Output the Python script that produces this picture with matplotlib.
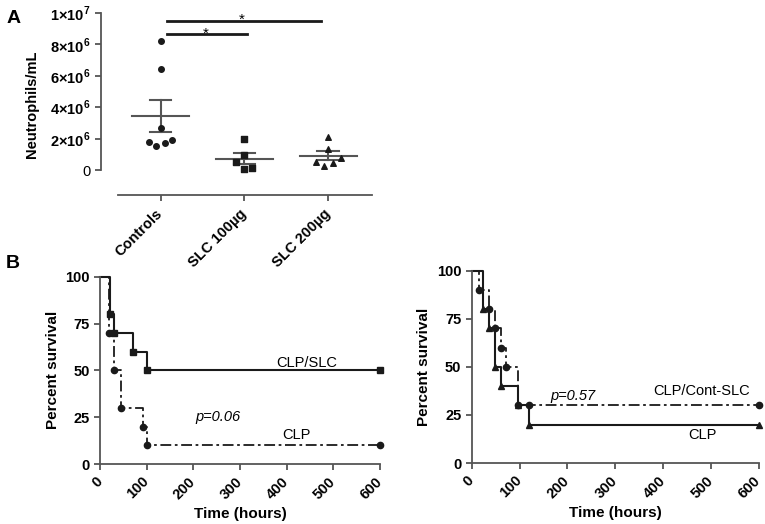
import numpy as np
import matplotlib
matplotlib.use("Agg")
import matplotlib.pyplot as plt

plt.rcParams['font.family'] = ['Liberation Sans', 'DejaVu Sans']
plt.rcParams['mathtext.fontset'] = 'custom'
plt.rcParams['mathtext.rm'] = 'Liberation Sans:bold'
plt.rcParams['mathtext.bf'] = 'Liberation Sans:bold'

# panel A data (neutrophils/mL)
groups = ["Controls", "SLC 100µg", "SLC 200µg"]
controls = [8.2e6, 6.45e6, 2.65e6, 1.8e6, 1.55e6, 1.7e6, 1.9e6]
controls_off = [0, 0, 0, -0.14, -0.05, 0.05, 0.14]
slc100 = [2.0e6, 0.95e6, 0.54e6, 0.04e6, 0.1e6]
slc100_off = [0, 0, -0.1, 0, 0.09]
slc200 = [2.1e6, 1.34e6, 0.54e6, 0.28e6, 0.43e6, 0.75e6]
slc200_off = [0, 0, -0.15, -0.05, 0.05, 0.15]
yticks_a = [0, 2e6, 4e6, 6e6, 8e6, 1e7]
ytick_labels_a = ["0", r"$2{\times}10^{6}$", r"$4{\times}10^{6}$", r"$6{\times}10^{6}$",
                  r"$8{\times}10^{6}$", r"$1{\times}10^{7}$"]

# panel B left: survival
t_slc = [0, 21, 30, 70, 100, 600]
s_slc = [100, 80, 70, 60, 50, 50]
t_clp1 = [0, 19, 30, 44, 93, 100, 600]
s_clp1 = [100, 70, 50, 30, 20, 10, 10]

# panel B right
t_cont = [0, 16, 36, 48, 61, 71, 97, 600]
s_cont = [100, 90, 80, 70, 60, 50, 30, 30]
cens_cont_t = [120]
cens_cont_s = [30]
t_clp2 = [0, 23, 36, 48, 61, 97, 120, 600]
s_clp2 = [100, 80, 70, 50, 40, 30, 20, 20]

dk = '#1a1a1a'
gray = '#555555'
dashdot = (0, (6, 2, 1.5, 2))

fig = plt.figure(figsize=(7.65, 5.24), dpi=100)

# ---------- panel A ----------
axA = fig.add_axes([0.1316, 0.6279, 0.3547, 0.3473])
axA.set_xlim(-0.714, 2.52)
axA.set_ylim(-1.59e6, 1e7)
markers = ['o', 's', '^']
for i, (vals, offs) in enumerate([(controls, controls_off), (slc100, slc100_off), (slc200, slc200_off)]):
    vals = np.array(vals)
    axA.scatter(i + np.array(offs), vals, marker=markers[i], s=16, color=dk, zorder=3, clip_on=False)
    m = vals.mean()
    sem = vals.std(ddof=1) / np.sqrt(len(vals))
    axA.plot([i - 0.34, i + 0.34], [m, m], color=gray, lw=1.5, zorder=2)
    axA.plot([i - 0.13, i + 0.13], [m + sem, m + sem], color=gray, lw=1.5, zorder=2)
    axA.plot([i - 0.13, i + 0.13], [m - sem, m - sem], color=gray, lw=1.5, zorder=2)
    axA.plot([i, i], [m - sem, m + sem], color=gray, lw=1.5, zorder=2)

# significance bars
axA.plot([0.08, 1.03], [8.65e6, 8.65e6], color=dk, lw=2, clip_on=False)
axA.text(0.54, 8.45e6, "*", ha='center', va='baseline', fontsize=11)
axA.plot([0.08, 1.91], [9.5e6, 9.5e6], color=dk, lw=2, clip_on=False)
axA.text(0.97, 9.3e6, "*", ha='center', va='baseline', fontsize=11)

for s in ['top', 'right']:
    axA.spines[s].set_visible(False)
axA.spines['left'].set_bounds(0, 1e7)
axA.spines['bottom'].set_bounds(-0.51, 2.52)
for s in ['left', 'bottom']:
    axA.spines[s].set_color(gray)
    axA.spines[s].set_linewidth(1.3)
axA.set_yticks(yticks_a)
axA.set_yticklabels(ytick_labels_a)
axA.set_xticks(range(3))
axA.set_xticklabels(groups, rotation=45, ha='right', va='center', rotation_mode='anchor',
                    fontweight='bold')
axA.tick_params(axis='x', pad=8)
axA.tick_params(axis='both', labelsize=10.5, color=gray, width=1.3, length=4)
axA.set_ylabel("Neutrophils/mL", fontsize=10.5, fontweight='bold', labelpad=8)
fig.text(0.008, 0.965, "A", fontsize=14, fontweight='bold', va='center')


def style_km(ax):
    ax.set_xlim(0, 600)
    ax.set_ylim(0, 100)
    for s in ['top', 'right']:
        ax.spines[s].set_visible(False)
    for s in ['left', 'bottom']:
        ax.spines[s].set_color(gray)
        ax.spines[s].set_linewidth(1.3)
    ax.set_xticks(range(0, 601, 100))
    ax.set_yticks([0, 25, 50, 75, 100])
    ax.tick_params(axis='both', labelsize=10.5, color=gray, width=1.3, length=4)
    ax.tick_params(axis='x', pad=7)
    for lab in ax.get_xticklabels() + ax.get_yticklabels():
        lab.set_fontweight('bold')
    for lab in ax.get_xticklabels():
        lab.set_rotation(45)
        lab.set_ha('right')
        lab.set_va('center')
        lab.set_rotation_mode('anchor')
    ax.set_xlabel("Time (hours)", fontsize=11, fontweight='bold', labelpad=4)
    ax.set_ylabel("Percent survival", fontsize=11, fontweight='bold', labelpad=4)


# ---------- panel B left ----------
axL = fig.add_axes([0.1307, 0.1145, 0.366, 0.3574])
axL.step(t_slc, s_slc, where='post', color=dk, lw=1.5, clip_on=False)
axL.plot(t_slc[1:], s_slc[1:], 's', color=dk, ms=4.5, clip_on=False)
axL.step(t_clp1, s_clp1, where='post', color=dk, lw=1.3, linestyle=dashdot, clip_on=False)
axL.plot(t_clp1[1:], s_clp1[1:], 'o', color=dk, ms=4.5, clip_on=False)
style_km(axL)
axL.text(444, 54, "CLP/SLC", fontsize=10.5, ha='center', va='center')
axL.text(253, 25, "p=0.06", fontsize=10.5, style='italic', ha='center', va='center')
axL.text(420, 15.5, "CLP", fontsize=10.5, ha='center', va='center')
fig.text(0.008, 0.498, "B", fontsize=14, fontweight='bold', va='center')

# ---------- panel B right ----------
axR = fig.add_axes([0.6166, 0.1164, 0.3750, 0.367])
axR.step(t_clp2, s_clp2, where='post', color=dk, lw=1.5, clip_on=False)
axR.plot(t_clp2[1:], s_clp2[1:], '^', color=dk, ms=4.5, clip_on=False)
axR.step(t_cont, s_cont, where='post', color=dk, lw=1.3, linestyle=dashdot, clip_on=False)
axR.plot(t_cont[1:], s_cont[1:], 'o', color=dk, ms=4.5, clip_on=False)
axR.plot(cens_cont_t, cens_cont_s, 'o', color=dk, ms=4.5, clip_on=False)
style_km(axR)
axR.text(480, 37.6, "CLP/Cont-SLC", fontsize=10.5, ha='center', va='center')
axR.text(211, 35, "p=0.57", fontsize=10.5, style='italic', ha='center', va='center')
axR.text(482, 14.5, "CLP", fontsize=10.5, ha='center', va='center')

fig.savefig("out.png", dpi=100)
